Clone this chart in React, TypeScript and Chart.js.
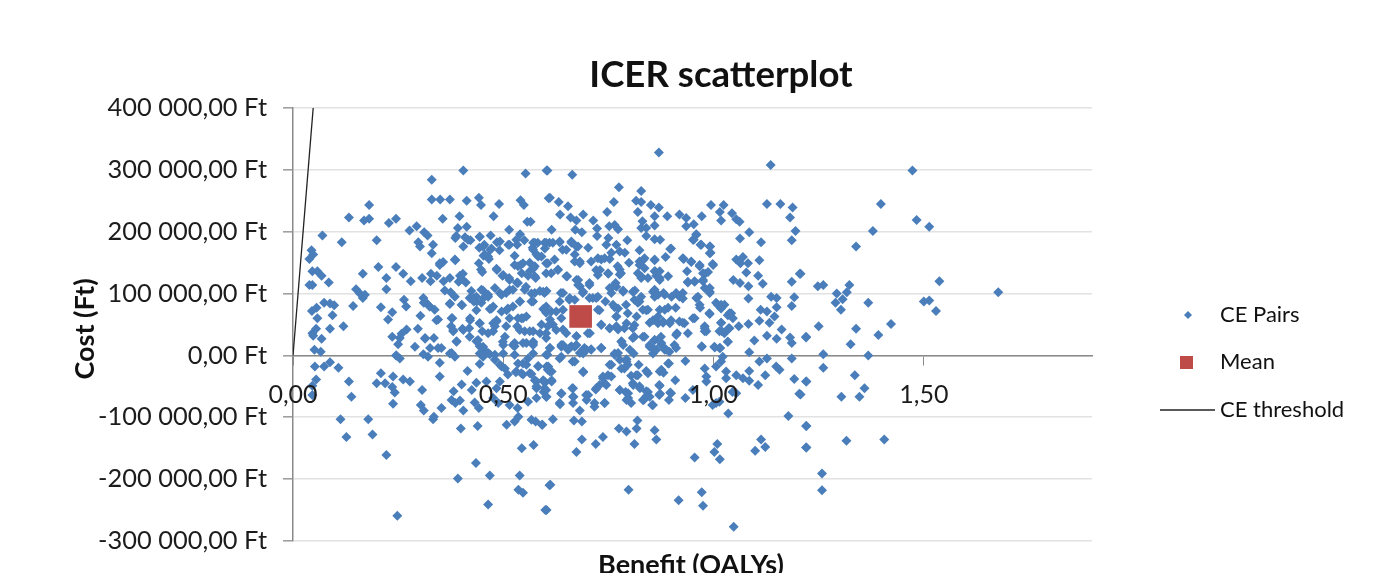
import React, { useEffect, useRef } from "react";
import { Chart, registerables } from "chart.js";

Chart.register(...registerables);

const chartTitle = "ICER scatterplot";
const xAxisTitle = "Benefit (QALYs)";
const yAxisTitle = "Cost (Ft)";
const legendLabels = ["CE Pairs", "Mean", "CE threshold"];

// benefit in QALYs, cost in thousand Ft
const cePairs: number[][] = [
[.405,299],[.330,284],[.330,252],[.350,252],[.373,252],[.413,250],[.442,255],[.447,243],[.490,245],[.541,251],[.549,243],[.553,294],[.603,299],[.608,254],[.181,243],[.133,223],[.169,218],[.181,221],[.228,214],[.245,221],[.277,202],[.294,209],[.312,199],[.320,194],[.356,221],[.396,225],[.477,225],[.392,206],[.413,208],[.388,193],[.386,190],[.409,191],[.422,186],[.444,192],[.470,194],[.485,183],[.514,203],[.540,196],[.550,186],[.557,216],[.565,216],[.070,194],[.116,183],[.199,186],[.298,183],[.302,176],[.333,179],[.330,165],[.044,170],[.048,163],[.039,156],[.203,143],[.245,143],[.262,132],[.280,120],[.222,125],[.166,132],[.046,136],[.058,136],[.068,129],[.085,118],[.039,114],[.046,114],[.150,107],[.159,100],[.171,98],[.166,93],[.222,107],[.074,85],[.088,84],[.098,81],[.143,80],[.209,78],[.264,90],[.269,79],[.056,77],[.045,72],[.094,65],[.058,60],[.236,70],[.226,58],[.120,47],[.088,43],[.055,43],[.046,36],[.048,32],[.068,27],[.051,9],[.066,6],[.236,30],[.270,42],[.258,35],[.254,28],[.250,18],[.297,43],[.314,27],[.335,28],[.326,12],[.290,14],[.353,12],[.246,0],
[.307,125],[.328,132],[.342,129],[.327,120],[.358,120],[.373,125],[.386,154],[.357,151],[.349,146],[.397,129],[.404,132],[.394,119],[.411,118],[.401,124],[.442,149],[.447,139],[.450,135],[.484,140],[.498,129],[.514,125],[.533,118],[.527,146],[.541,146],[.544,133],[.559,129],[.577,125],[.572,141],[.563,150],[.527,161],[.491,170],[.453,161],[.466,156],[.469,171],[.443,174],[.455,179],[.515,179],[.533,179],[.571,182],[.570,174],[.582,182],[.591,160],[.579,163],[.602,182],[.602,149],[.361,105],[.375,102],[.385,95],[.310,93],[.311,85],[.325,79],[.337,74],[.303,64],[.345,58],[.373,84],[.402,81],[.424,104],[.452,105],[.420,93],[.436,95],[.430,87],[.448,85],[.464,95],[.480,109],[.496,98],[.507,101],[.523,106],[.533,117],[.551,106],[.567,100],[.587,104],[.603,104],[.571,87],[.540,87],[.523,79],[.508,73],[.476,79],[.468,75],[.436,73],[.379,60],[.376,47],[.381,39],[.403,43],[.421,60],[.419,44],[.444,52],[.450,39],[.420,30],[.389,23],[.436,23],[.444,15],[.476,39],[.484,55],[.515,60],[.507,47],[.533,47],[.543,60],[.555,63],[.551,39],[.571,39],[.591,50],[.595,75],[.602,69],[.500,17],[.527,15],[.555,20],[.571,17],[.452,12],[.464,4],[.377,4],
[.605,299],[.664,292],[.870,328],[1.136,308],[.775,272],[.828,266],[.611,255],[.632,248],[.654,241],[.635,228],[.690,228],[.660,223],[.674,218],[.714,218],[.747,232],[.763,248],[.816,250],[.828,248],[.851,243],[.870,239],[.820,232],[.890,225],[.860,225],[.831,217],[.919,228],[.935,222],[.972,225],[.994,243],[1.024,243],[1.015,232],[1.044,230],[1.018,218],[1.054,220],[1.062,216],[1.127,245],[1.159,245],[1.188,239],[1.182,223],[1.195,201],[1.186,186],[.615,203],[.671,203],[.687,199],[.723,205],[.723,193],[.752,209],[.765,211],[.773,204],[.750,190],[.745,179],[.795,186],[.769,179],[.828,206],[.840,206],[.860,210],[.840,193],[.860,188],[.873,187],[.702,174],[.634,183],[.662,182],[.674,176],[.650,171],[.618,182],[.598,182],[.824,170],[.897,172],[.935,209],[.953,212],[.959,196],[.953,187],[.969,179],[.992,176],[.993,166],[1.063,189],[1.085,199],[1.113,183],[1.109,154],[1.070,159],[1.054,155],[1.082,149],[1.064,149],[1.078,134],[1.106,129],[1.205,132],[1.117,116],[1.186,119],[1.047,122],[1.063,117],[1.083,112],[1.083,92],[1.137,95],[1.150,93],[1.192,94],[1.186,80],[1.150,78],[1.112,74],[1.127,71],[1.145,63],[1.133,53],[1.109,56],[1.083,51],[1.060,47],[1.038,68],[1.018,82],[1.006,85],[.991,67],[1.018,53],[1.036,44],[1.020,39],[.979,44],[.983,39],[1.034,22],[1.097,24],[1.127,32],[1.150,27],[1.162,42],[1.182,29],[1.220,30],[1.186,20],[1.085,5],[.972,15],[1.003,13],[1.016,12],[.939,36],[.913,36],[.951,60],[.927,53],[.896,52],[.880,53],[.848,53],[.868,63],[.892,77],[.910,77],[.927,92],[.919,95],[.900,95],[.881,101],[.860,106],[.860,95],[.963,95],[.968,77],[.991,101],[.991,109],[.975,120],[.967,144],[.998,148],[.980,132],[.955,120],[.939,118],[.937,136],[.947,151],[.929,156],[.886,159],[.860,154],[.832,154],[.824,146],[.820,133],[.861,136],[.864,129],[.892,128],[.872,122],[.844,125],[.828,125],[.799,150],[.789,166],[.777,168],[.757,166],[.753,156],[.733,155],[.709,152],[.682,152],[.670,163],[.630,139],[.602,133],[.652,128],[.678,122],[.682,112],[.705,117],[.730,138],[.750,132],[.777,139],[.777,131],[.767,117],[.753,109],[.689,101],[.713,93],[.725,95],[.743,87],[.757,101],[.785,105],[.813,105],[.828,95],[.765,78],[.792,82],[.820,85],[.840,73],[.729,73],[.769,63],[.817,63],[.793,52],[.733,50],[.753,44],[.773,42],[.808,44],[.808,28],[.836,30],[.801,9],[.781,23],[.765,3],[.733,12],[.706,36],[.674,31],[.662,15],[.690,9],[.709,10],[.642,42],[.642,17],[.618,50],[.602,36],[.611,12],[.611,58],[.602,79],[.637,101],[.657,90],[.598,101],[.860,25],[.860,9],[.875,30],[.911,12],[.888,9],[.911,33],
[1.473,299],[1.398,245],[1.483,219],[1.513,208],[1.379,201],[1.339,176],[1.207,132],[1.248,112],[1.261,114],[1.323,114],[1.317,102],[1.293,100],[1.307,91],[1.290,85],[1.303,74],[1.368,85],[1.537,120],[1.677,102],[1.500,87],[1.513,89],[1.529,72],[1.422,51],[1.392,33],[1.339,43],[1.250,47],[1.220,29],[1.326,18],[1.261,2],[1.368,0],
[1.261,-20],[1.336,-32],[1.221,-42],[1.359,-53],[1.304,-67],[1.347,-67],[1.207,-63],[1.221,-114],[1.316,-138],[1.406,-136],[1.221,-149],[1.258,-191],[1.258,-218],
[.245,0],[.254,-5],[.310,2],[.321,-2],[.052,-18],[.074,-18],[.088,-11],[.108,-20],[.055,-39],[.046,-49],[.046,-64],[.133,-42],[.139,-67],[.209,-29],[.199,-45],[.219,-45],[.238,-34],[.262,-39],[.278,-42],[.236,-51],[.242,-60],[.238,-78],[.113,-103],[.179,-103],[.127,-132],[.189,-128],[.222,-161],[.248,-259],[.307,-56],[.304,-80],[.311,-89],[.349,-12],[.349,-34],[.335,-99],[.333,-103],[.353,-85],[.382,-58],[.377,-72],[.386,-77],[.397,-73],[.405,-89],[.401,-47],[.415,-25],[.425,-56],[.432,-76],[.442,-85],[.439,-114],[.399,-118],[.435,-174],[.392,-199],[.468,-194],[.464,-241],[.539,-194],[.536,-217],[.547,-222],[.600,-250],[.610,-210],[.544,-150],[.572,-145],[.508,-112],[.527,-107],[.536,-99],[.534,-85],[.515,-80],[.488,-77],[.567,-104],[.577,-107],[.592,-112],[.559,-75],[.579,-69],[.602,-67],[.476,-69],[.484,-53],[.460,-42],[.436,-44],[.492,-42],[.511,-31],[.530,-27],[.547,-31],[.567,-30],[.579,-42],[.579,-53],[.599,-44],[.602,-56],[.444,-14],[.452,-2],[.468,2],[.480,-7],[.496,-18],[.535,-13],[.555,-15],[.583,-18],[.606,-23],[.500,3],[.527,1],[.571,3],[.602,1],[.385,-2],[.373,3],
[.593,-112],[.618,-103],[.612,-209],[.603,-250],[.674,-156],[.687,-136],[.720,-143],[.737,-132],[.668,-105],[.687,-107],[.775,-118],[.793,-123],[.817,-118],[.819,-105],[.812,-143],[.860,-121],[.864,-136],[.798,-217],[.917,-234],[.972,-221],[.975,-243],[1.048,-277],[.955,-165],[1.009,-143],[1.002,-156],[1.015,-168],[1.099,-154],[1.113,-136],[1.123,-148],[1.220,-149],[1.220,-114],[1.035,-94],[1.178,-98],[1.204,-62],[1.220,-42],[1.192,-38],[1.186,-5],[1.149,-18],[1.157,-23],[1.127,-5],[1.109,-10],[1.123,-32],[1.085,-25],[1.054,-32],[1.070,-37],[1.085,-41],[1.106,-48],[1.030,-26],[1.030,-37],[1.045,-59],[1.054,-61],[1.006,-77],[.998,-80],[1.014,-75],[.983,-34],[.979,-21],[.983,-42],[1.006,-18],[1.018,-10],[.933,-9],[.909,-40],[.894,-13],[.897,-60],[.894,-72],[.933,-69],[.951,-56],[.872,-26],[.881,-28],[.872,-49],[.873,-62],[.854,-80],[.844,-59],[.834,-72],[.840,-66],[.824,-50],[.808,-45],[.791,-59],[.797,-69],[.804,-77],[.777,-56],[.741,-77],[.717,-83],[.702,-64],[.698,-72],[.682,-89],[.667,-67],[.664,-53],[.638,-62],[.635,-79],[.615,-42],[.598,-42],[.611,-26],[.603,-18],[.596,-59],[.603,-67],[.690,-26],[.753,-15],[.757,-34],[.737,-34],[.729,-48],[.720,-55],[.745,-48],[.804,-33],[.820,-32],[.840,-25],[.788,-21],[.796,-15],[.822,-15],[.777,-7],[.793,-6],[.856,3],[.665,-10],[.638,-2],[.605,1],[.690,3],[.765,1],[.810,3],
[.440,25],[.452,14],[.444,3],[.464,36],[.480,47],[.504,30],[.527,20],[.539,41],[.547,60],[.535,60],[.563,39],[.599,74],[.614,71],[.606,47],[.587,36],[.602,28],[.571,22],[.496,71],[.511,76],[.472,76],[.430,93],[.437,87],[.453,93],[.464,98],[.448,106],[.492,101],[.515,106],[.535,117],[.554,111],[.539,87],[.567,87],[.575,101],[.595,103],[.575,128],[.575,144],[.614,133],[.606,149],[.583,160],[.599,173],[.575,182],[.610,182],[.571,171],[.547,149],[.535,144],[.563,136],[.531,187],[.512,179],[.492,184],[.472,173],[.452,176],[.444,192],[.464,160],[.456,163],[.405,176],[.416,187],[.485,138],[.500,130],[.515,122],[.325,79],[.341,57],[.314,87],[.377,60],[.401,82],[.373,83],[.421,57],[.405,41],[.381,41],[.444,52],[.476,52],[.484,57],[.345,12],[.389,22],[.314,28],[.349,149],[.385,155],
[.725,157],[.741,157],[.630,138],[.622,155],[.634,184],[.641,171],[.662,184],[.678,176],[.670,152],[.682,149],[.721,138],[.725,130],[.749,133],[.772,144],[.780,133],[.769,111],[.757,109],[.674,122],[.678,114],[.650,128],[.705,114],[.690,103],[.705,93],[.721,93],[.658,93],[.642,101],[.634,87],[.670,90],[.626,71],[.638,60],[.642,74],[.626,41],[.650,36],[.674,31],[.701,36],[.725,74],[.733,49],[.753,44],[.769,47],[.761,82],[.773,76],[.785,103],[.808,103],[.812,90],[.832,74],[.824,87],[.844,74],[.796,68],[.769,63],[.812,49],[.788,44],[.812,30],[.832,30],[.781,22],[.856,103],[.868,98],[.884,98],[.911,101],[.927,101],[.856,57],[.868,52],[.880,55],[.884,74],[.872,74],[.899,57],[.919,55],[.931,52],[.860,25],[.848,14],[.876,20],[.907,17],[.670,14],[.654,9],[.693,12],[.709,9],[.638,14],[.733,12],[.860,9],[.884,9],[.829,127],[.872,125],[.872,136],[.836,141],[.824,152],[.836,157],[.860,136],[.860,155],[.899,173],[.927,157],[.939,119],
[.959,195],[.951,187],[.971,179],[.991,176],[.991,165],[.947,152],[.967,146],[.987,135],[.999,146],[.975,133],[.975,122],[.955,119],[.979,109],[.991,103],[.959,93],[.967,82],[1.010,82],[1.018,76],[1.026,82],[.990,68],[1.042,68],[1.034,65],[1.046,60],[.955,60],[1.018,53],[.979,47],[1.014,39],[1.038,44],[1.026,36],[.979,39],[1.034,22],[.972,14],[1.002,14],[1.014,12],[1.022,-2],
[.499,22],[.523,17],[.547,20],[.571,20],[.611,12],[.638,17],[.658,12],[.674,17],[.682,4],[.698,9],[.733,12],[.785,17],[.773,4],[.848,17],[.864,9],[.876,17],[.895,6],[.460,4],[.480,1],[.492,-15],[.504,-21],[.531,-26],[.543,-29],[.563,-29],[.547,-13],[.559,-5],[.583,-17],[.607,-18],[.615,-26],[.575,-40],[.595,-40],[.615,-40],[.579,-50],[.598,-53],[.634,-5],[.670,-10],[.690,-27],[.638,-61],[.666,-53],[.666,-67],[.634,-77],[.666,-77],[.697,-64],[.721,-53],[.741,-45],[.749,-32],[.757,-15],[.737,-37],[.717,-77],[.741,-77],[.781,-21],[.793,-10],[.816,-32],[.844,-29],[.876,-23],[.892,-13],[.777,-56],[.797,-61],[.809,-48],[.825,-53],[.840,-58],[.848,-67],[.871,-48],[.899,-61],[.871,-64],[.793,-72],[.832,-72],[.856,-80],
];

const meanPoint = [0.684, 63];
const thresholdBenefit = [0, 0.048];
const thresholdCost = [0, 400];

const BLUE = "#4a7ebb";
const RED = "#be4b48";
const TEXT = "#1c1c1c";
const FONT = "Lato";

const annotations = {
  id: "annotations",
  afterDraw(chart: any) {
    const { ctx } = chart;
    ctx.save();
    ctx.fillStyle = "#111";
    ctx.textBaseline = "middle";
    ctx.textAlign = "center";
    ctx.font = `bold 36.6px ${FONT}`;
    ctx.fillText(chartTitle, 721, 75);
    ctx.font = `bold 27px ${FONT}`;
    ctx.fillText(xAxisTitle, 691, 565);
    ctx.save();
    ctx.translate(85, 329);
    ctx.rotate(-Math.PI / 2);
    ctx.fillText(yAxisTitle, 0, 0);
    ctx.restore();
    ctx.textAlign = "left";
    ctx.font = `22px ${FONT}`;
    ctx.fillText(legendLabels[0], 1220, 315);
    ctx.fillText(legendLabels[1], 1220, 362);
    ctx.fillText(legendLabels[2], 1220, 410);
    ctx.fillStyle = BLUE;
    ctx.beginPath();
    ctx.moveTo(1188, 311);
    ctx.lineTo(1192, 315);
    ctx.lineTo(1188, 319);
    ctx.lineTo(1184, 315);
    ctx.closePath();
    ctx.fill();
    ctx.fillStyle = RED;
    ctx.fillRect(1180, 356, 13, 13);
    ctx.strokeStyle = "#222";
    ctx.lineWidth = 1.3;
    ctx.beginPath();
    ctx.moveTo(1160, 410);
    ctx.lineTo(1215, 410);
    ctx.stroke();
    ctx.restore();
  },
};

export default function App() {
  const ref = useRef<HTMLCanvasElement>(null);
  useEffect(() => {
    const chart = new Chart(ref.current!, {
      type: "scatter",
      data: {
        datasets: [
          {
            label: legendLabels[2],
            type: "line",
            data: thresholdBenefit.map((x, i) => ({ x, y: thresholdCost[i] * 1000 })),
            borderColor: "#222",
            borderWidth: 1.3,
            pointRadius: 0,
            order: 2,
          },
          {
            label: legendLabels[0],
            data: cePairs.map(([x, y]) => ({ x, y: y * 1000 })),
            backgroundColor: BLUE,
            borderWidth: 0,
            pointStyle: "rectRot",
            pointRadius: 5,
            order: 3,
          },
          {
            label: legendLabels[1],
            data: [{ x: meanPoint[0], y: meanPoint[1] * 1000 }],
            backgroundColor: RED,
            borderWidth: 0,
            pointStyle: "rect",
            pointRadius: 16,
            order: 1,
          },
        ],
      },
      options: {
        responsive: false,
        animation: false,
        layout: { padding: { left: 0, right: 296, top: 108, bottom: 32 } },
        plugins: { legend: { display: false }, title: { display: false }, tooltip: { enabled: false } },
        scales: {
          x: {
            type: "linear",
            min: 0,
            max: 1.9,
            position: { y: 0 },
            grid: { drawOnChartArea: false, drawTicks: true, tickLength: 9, tickColor: "#8a8a8a" },
            border: { color: "#8a8a8a", width: 1.5 },
            ticks: {
              z: 1,
              stepSize: 0.5,
              includeBounds: false,
              padding: 16,
              maxRotation: 0,
              color: TEXT,
              font: { family: FONT, size: 25 },
              callback: (v: any) => Number(v).toFixed(2).replace(".", ","),
            },
          },
          y: {
            type: "linear",
            min: -300000,
            max: 400000,
            position: "left",
            afterFit: (s: any) => { s.width = 293; },
            grid: { color: "#e2e2e2", lineWidth: 1.6, tickLength: 10, tickColor: "#a0a0a0" },
            border: { color: "#8a8a8a", width: 1.5 },
            ticks: {
              stepSize: 100000,
              padding: 16,
              color: TEXT,
              font: { family: FONT, size: 25.4 },
              callback: (v: any) => {
                const n = Number(v);
                const a = Math.abs(n);
                const body = a === 0 ? "0" : `${Math.floor(a / 1000)} 000`;
                return `${n < 0 ? "-" : ""}${body},00 Ft`;
              },
            },
          },
        },
      },
      plugins: [annotations],
    });
    return () => chart.destroy();
  }, []);
  return (
    <div style={{ position: "fixed", left: 0, top: 0, width: 1388, height: 573, background: "#fff" }}>
      <canvas ref={ref} width={1388} height={573} style={{ display: "block", filter: "blur(0.5px)" }} />
    </div>
  );
}
